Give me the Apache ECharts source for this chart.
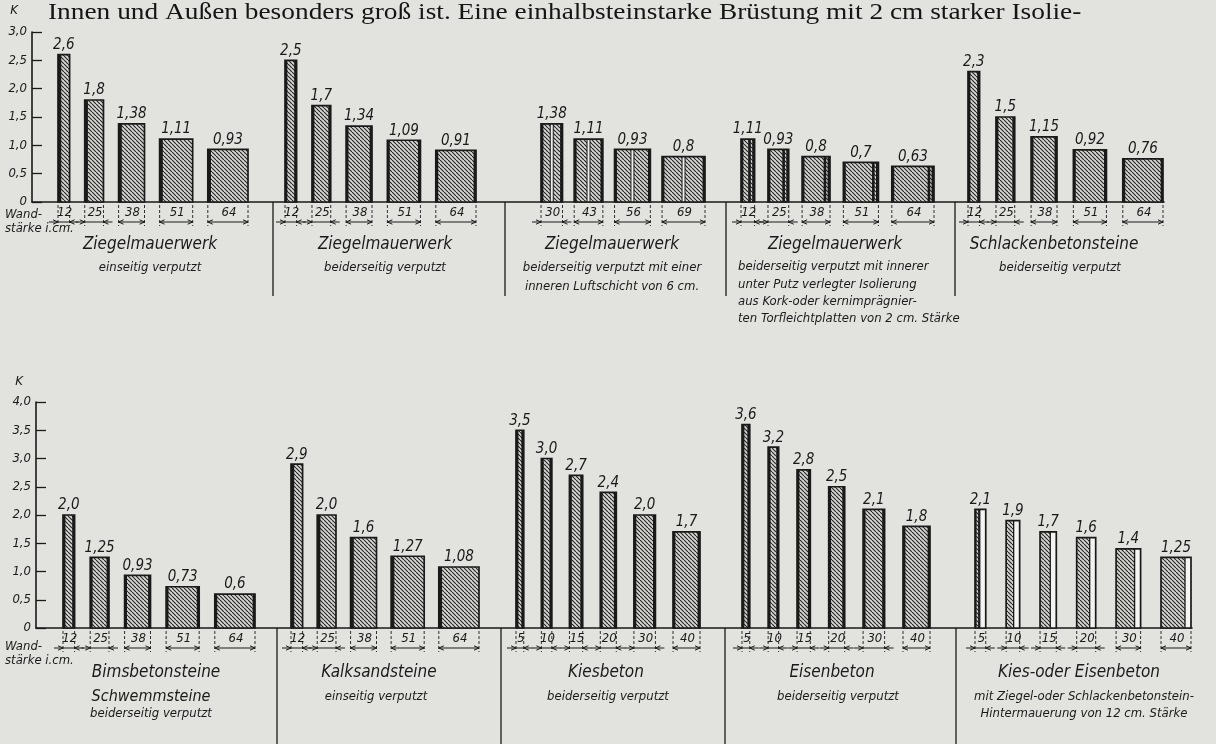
<!DOCTYPE html>
<html><head><meta charset="utf-8">
<script src="https://cdn.jsdelivr.net/npm/echarts@6/dist/echarts.min.js"></script>
<style>html,body{margin:0;padding:0;background:#e2e2df;}#c{width:1216px;height:744px;}</style>
</head><body><div id="c"></div>
<script>
// ================= DATA =================
const headerText = 'Innen und Außen besonders groß ist. Eine einhalbsteinstarke Brüstung mit 2 cm starker Isolie-';

// wall thickness in cm (x categories)
const thickZiegel = [12, 25, 38, 51, 64];
const thickLuft = [30, 43, 56, 69];
const thickBeton = [5, 10, 15, 20, 30, 40];

// K values (heat transmission coefficient)
const kZiegelEinseitig = [2.6, 1.8, 1.38, 1.11, 0.93];
const kZiegelBeiderseitig = [2.5, 1.7, 1.34, 1.09, 0.91];
const kZiegelLuftschicht = [1.38, 1.11, 0.93, 0.8];
const kZiegelIsoliert = [1.11, 0.93, 0.8, 0.7, 0.63];
const kSchlackenbeton = [2.3, 1.5, 1.15, 0.92, 0.76];
const kBimsbeton = [2.0, 1.25, 0.93, 0.73, 0.6];
const kKalksand = [2.9, 2.0, 1.6, 1.27, 1.08];
const kKiesbeton = [3.5, 3.0, 2.7, 2.4, 2.0, 1.7];
const kEisenbeton = [3.6, 3.2, 2.8, 2.5, 2.1, 1.8];
const kHintermauert = [2.1, 1.9, 1.7, 1.6, 1.4, 1.25];

// tick labels
const yLabelsTop = ['0', '0,5', '1,0', '1,5', '2,0', '2,5', '3,0'];
const yLabelsBottom = ['0', '0,5', '1,0', '1,5', '2,0', '2,5', '3,0', '3,5', '4,0'];

// group captions
const titlesTop = ['Ziegelmauerwerk', 'Ziegelmauerwerk', 'Ziegelmauerwerk', 'Ziegelmauerwerk', 'Schlackenbetonsteine'];
const subsTop = [
  ['einseitig verputzt'],
  ['beiderseitig verputzt'],
  ['beiderseitig verputzt mit einer', 'inneren Luftschicht von 6 cm.'],
  ['beiderseitig verputzt mit innerer', 'unter Putz verlegter Isolierung', 'aus Kork-oder kernimprägnier-', 'ten Torfleichtplatten von 2 cm. Stärke'],
  ['beiderseitig verputzt']
];
const titlesBottom = ['Bimsbetonsteine', 'Kalksandsteine', 'Kiesbeton', 'Eisenbeton', 'Kies-oder Eisenbeton'];
const subsBottom = [
  ['Schwemmsteine', 'beiderseitig verputzt'],
  ['einseitig verputzt'],
  ['beiderseitig verputzt'],
  ['beiderseitig verputzt'],
  ['mit Ziegel-oder Schlackenbetonstein-', 'Hintermauerung von 12 cm. Stärke']
];
const axisCaption = ['Wand-', 'stärke i.cm.'];

// ================= LAYOUT / STYLE =================
const FF = "'DejaVu Sans Condensed','Liberation Sans Narrow','DejaVu Sans',sans-serif";
const fnt = s => 'italic ' + s + 'px ' + FF;
const INK = '#1a1a1a';

const rows = [
  { grid: { left: 32, top: 32, width: 1132, height: 170 }, ymax: 3, labels: yLabelsTop, kGap: 15, kPad: 14,
    groups: [
      { thick: thickZiegel, k: kZiegelEinseitig, type: 'left', span: [26, 216] },
      { thick: thickZiegel, k: kZiegelBeiderseitig, type: 'both', span: [253, 444] },
      { thick: thickLuft, k: kZiegelLuftschicht, type: 'air', span: [509, 673] },
      { thick: thickZiegel, k: kZiegelIsoliert, type: 'insul', span: [709, 902] },
      { thick: thickZiegel, k: kSchlackenbeton, type: 'both', span: [936, 1131] }
    ],
    seps: [241, 473, 694, 923], sepEnd: 296,
    titles: titlesTop, subs: subsTop,
    titleX: [150, 385, 612, 835, 1054], titleY: 245, subY: [268, 287, 306, 323],
    subX: [150, 385, 612, 738, 1060], subAlign: ['center', 'center', 'center', 'left', 'center'],
    subLineY: { 3: [267, 285, 302, 319] },
    capY: [215, 229]
  },
  { grid: { left: 36, top: 402, width: 1156, height: 226 }, ymax: 4, labels: yLabelsBottom, kGap: 14, kPad: 13,
    groups: [
      { thick: thickZiegel, k: kBimsbeton, type: 'both', span: [27, 219] },
      { thick: thickZiegel, k: kKalksand, type: 'left', span: [255, 443] },
      { thick: thickBeton, k: kKiesbeton, type: 'both', span: [480, 664] },
      { thick: thickBeton, k: kEisenbeton, type: 'both', span: [706, 894] },
      { thick: thickBeton, k: kHintermauert, type: 'backing', span: [939, 1155] }
    ],
    seps: [241, 465, 689, 920], sepEnd: 744,
    titles: titlesBottom, subs: subsBottom,
    titleX: [156, 379, 606, 832, 1079], titleY: 673, subY: [697, 714],
    subX: [151, 376, 608, 838, 1084], subAlign: ['center', 'center', 'center', 'center', 'center'],
    subLineY: {},
    capY: [647, 661]
  }
];

// hatch pattern
function makeHatch() {
  const s = 4, c = document.createElement('canvas');
  c.width = s; c.height = s;
  const g = c.getContext('2d');
  g.fillStyle = '#d8d8d5'; g.fillRect(0, 0, s, s);
  g.strokeStyle = '#262626'; g.lineWidth = 1.15;
  g.beginPath();
  for (let k = -s; k <= s; k += s) { g.moveTo(k, 0); g.lineTo(k + s, s); }
  g.stroke();
  return c;
}
const hatch = { image: makeHatch(), repeat: 'repeat' };

function fmtK(v) {
  return (Number.isInteger(v) ? v.toFixed(1) : String(v)).replace('.', ',');
}
function barWidth(t, type) {
  if (type === 'insul') return 7 + 0.55 * t;
  if (type === 'backing') return 8 + 0.55 * t;
  return 5 + 0.55 * t;
}
function layoutLefts(span, widths) {
  const n = widths.length, total = widths.reduce((a, b) => a + b, 0);
  const gap = n > 1 ? (span[1] - span[0] - total) / (n - 1) : 0;
  let x = span[0];
  return widths.map(w => { const l = x; x += w + gap; return l; });
}

function arrow(x, y, dir) { // dir: +1 points right, -1 points left
  return { type: 'polyline', shape: { points: [[x - 5 * dir, y - 2.2], [x, y], [x - 5 * dir, y + 2.2]] },
    style: { stroke: INK, lineWidth: 1, fill: null } };
}

function makeRender(type) {
  return function (params, api) {
    const left = api.value(0), w = api.value(1), v = api.value(2), t = api.value(3);
    const pb = api.coord([left, 0]), pt = api.coord([left + w, v]);
    const x0 = pb[0], x1 = pt[0], yb = pb[1], yt = pt[1];
    const W = x1 - x0, H = yb - yt;
    const ch = [];
    const dark = (x, wd) => ch.push({ type: 'rect', shape: { x: x, y: yt, width: wd, height: H }, style: { fill: INK } });
    if (type === 'backing') {
      const cw = api.size([api.value(4), 0])[0];
      ch.push({ type: 'rect', shape: { x: x0, y: yt, width: cw, height: H }, style: { fill: hatch } });
      ch.push({ type: 'rect', shape: { x: x0 + cw, y: yt, width: W - cw, height: H }, style: { fill: '#f4f4f2' } });
      ch.push({ type: 'line', shape: { x1: x0 + cw, y1: yt, x2: x0 + cw, y2: yb }, style: { stroke: INK, lineWidth: 1.3 } });
      if (t <= 5) {
        dark(x0, 1.6); dark(x0 + cw - 1.6, 1.6);
      }
    } else {
      ch.push({ type: 'rect', shape: { x: x0, y: yt, width: W, height: H }, style: { fill: hatch } });
      const pw = 2.4;
      dark(x0, type === 'left' ? 3.2 : pw);
      if (type !== 'left') dark(x1 - pw, pw);
      if (type === 'air') {
        const cx = x0 + W / 2;
        ch.push({ type: 'rect', shape: { x: cx - 1.5, y: yt, width: 3, height: H }, style: { fill: '#ededeb' } });
        ch.push({ type: 'line', shape: { x1: cx - 1.5, y1: yt, x2: cx - 1.5, y2: yb }, style: { stroke: INK, lineWidth: 1 } });
        ch.push({ type: 'line', shape: { x1: cx + 1.5, y1: yt, x2: cx + 1.5, y2: yb }, style: { stroke: INK, lineWidth: 1 } });
      }
      if (type === 'insul') {
        dark(x1 - pw - 4, 2.6);
      }
    }
    ch.push({ type: 'rect', shape: { x: x0, y: yt, width: W, height: H }, style: { fill: null, stroke: INK, lineWidth: 1.7 } });
    // value label
    ch.push({ type: 'text', x: (x0 + x1) / 2, y: yt - 2,
      style: { text: fmtK(v), font: fnt(15), fill: INK, align: 'center', verticalAlign: 'bottom', textAlign: 'center', textVerticalAlign: 'bottom' } });
    // dimension annotation
    const ya = yb + 20;
    ch.push({ type: 'line', shape: { x1: x0, y1: yb + 3, x2: x0, y2: yb + 24 }, style: { stroke: INK, lineWidth: 0.9, lineDash: [3, 2] } });
    ch.push({ type: 'line', shape: { x1: x1, y1: yb + 3, x2: x1, y2: yb + 24 }, style: { stroke: INK, lineWidth: 0.9, lineDash: [3, 2] } });
    ch.push({ type: 'text', x: (x0 + x1) / 2 + 1, y: yb + 11,
      style: { text: String(t), font: fnt(13), fill: INK, align: 'center', verticalAlign: 'middle', textAlign: 'center', textVerticalAlign: 'middle' } });
    if (W < 22) {
      ch.push({ type: 'line', shape: { x1: x0 - 9, y1: ya, x2: x1 + 9, y2: ya }, style: { stroke: INK, lineWidth: 1 } });
      ch.push(arrow(x0, ya, 1)); ch.push(arrow(x1, ya, -1));
    } else {
      ch.push({ type: 'line', shape: { x1: x0, y1: ya, x2: x1, y2: ya }, style: { stroke: INK, lineWidth: 1 } });
      ch.push(arrow(x0, ya, -1)); ch.push(arrow(x1, ya, 1));
    }
    return { type: 'group', children: ch };
  };
}

// ================= BUILD OPTION =================
const grids = [], xAxes = [], yAxes = [], series = [], graphics = [];
graphics.push({ type: 'text', x: 48, y: 13, scaleX: 1.14, style: { text: headerText, font: "24px 'Liberation Serif','DejaVu Serif',serif", fill: '#151515',
  textAlign: 'left', textVerticalAlign: 'middle', align: 'left', verticalAlign: 'middle' } });

rows.forEach((row, ri) => {
  grids.push(Object.assign({ containLabel: false }, row.grid));
  xAxes.push({ type: 'value', gridIndex: ri, min: 0, max: row.grid.width,
    axisLine: { show: true, onZero: false, lineStyle: { color: INK, width: 1.6 } },
    axisTick: { show: false }, axisLabel: { show: false }, splitLine: { show: false } });
  yAxes.push({ type: 'value', gridIndex: ri, min: 0, max: row.ymax, interval: 0.5,
    name: 'K', nameLocation: 'end', nameGap: row.kGap,
    nameTextStyle: { fontFamily: FF, fontStyle: 'italic', fontSize: 13, color: INK, align: 'right', padding: [0, row.kPad, 0, 0] },
    axisLine: { show: true, lineStyle: { color: INK, width: 1.6 } },
    axisTick: { show: true, inside: true, length: 10, lineStyle: { color: INK, width: 1.3 } },
    axisLabel: { margin: 5, fontFamily: FF, fontStyle: 'italic', fontSize: 13, color: INK,
      formatter: v => row.labels[Math.round(v / 0.5)] },
    splitLine: { show: false } });

  row.groups.forEach((g, gi) => {
    const widths = g.thick.map(t => barWidth(t, g.type));
    const lefts = layoutLefts(g.span, widths);
    const data = g.thick.map((t, i) => [lefts[i], widths[i], g.k[i], t, 2 + 0.55 * t]);
    series.push({ type: 'custom', name: row.titles[gi], xAxisIndex: ri, yAxisIndex: ri, clip: false,
      renderItem: makeRender(g.type), encode: { x: 0, y: 2 }, data: data, silent: true, animation: false });
  });

  const gl = row.grid.left, base = row.grid.top + row.grid.height;
  row.seps.forEach(s => graphics.push({ type: 'line', shape: { x1: gl + s, y1: base, x2: gl + s, y2: row.sepEnd },
    style: { stroke: INK, lineWidth: 1.3 } }));
  row.titles.forEach((tt, gi) => {
    graphics.push({ type: 'text', x: row.titleX[gi], y: row.titleY,
      style: { text: tt, font: fnt(17), fill: INK, textAlign: 'center', textVerticalAlign: 'middle', align: 'center', verticalAlign: 'middle' } });
    const lines = row.subs[gi];
    lines.forEach((ln, li) => {
      const yy = row.subLineY[gi] ? row.subLineY[gi][li] : row.subY[li];
      const big = (ri === 1 && gi === 0 && li === 0);
      graphics.push({ type: 'text', x: row.subX[gi], y: yy,
        style: { text: ln, font: fnt(big ? 16 : 13), fill: INK, textAlign: row.subAlign[gi], textVerticalAlign: 'middle',
          align: row.subAlign[gi], verticalAlign: 'middle' } });
    });
  });
  axisCaption.forEach((c, ci) => graphics.push({ type: 'text', x: 5, y: row.capY[ci],
    style: { text: c, font: fnt(13), fill: INK, textAlign: 'left', textVerticalAlign: 'middle', align: 'left', verticalAlign: 'middle' } }));
});

const chart = echarts.init(document.getElementById('c'), null, { renderer: 'canvas' });
chart.setOption({
  backgroundColor: '#e2e2df',
  animation: false,
  grid: grids, xAxis: xAxes, yAxis: yAxes, series: series, graphic: graphics
});
</script></body></html>
